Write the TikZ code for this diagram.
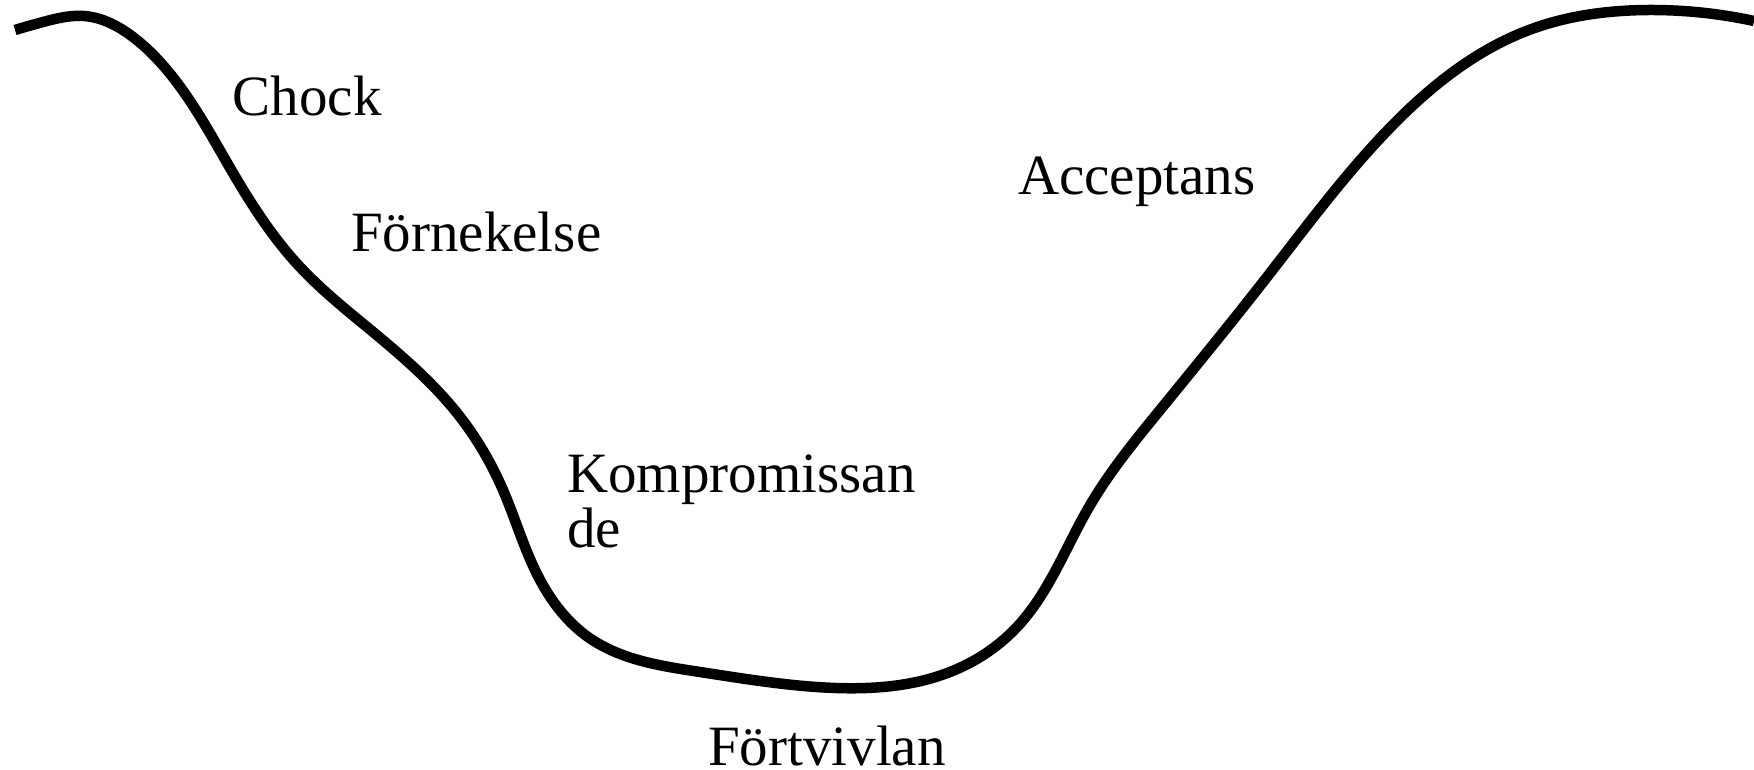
\documentclass[tikz,border=0pt]{standalone}
\usepackage{fontspec}
\setmainfont{Liberation Serif}
\usetikzlibrary{hobby}
\begin{document}
\begin{tikzpicture}[x=1pt,y=-1pt,
  lbl/.style={anchor=base west,inner sep=0pt,font=\fontsize{57}{55}\selectfont,align=left},
  curve/.style={line width=10.5pt,line cap=butt,line join=round}]
\useasboundingbox (0,0) rectangle (1754,770);
\draw[curve] (15,30) to[curve through={(45,21.5) (84,16) (133,37) (167,70) (233,173) (300,267)
 (367,327) (457,413) (503,490) (535,570) (588,637) (700,672) (836,688)
 (950,672) (1017,627) (1089,507) (1160,410) (1267,277) (1385,133) (1529,30)
 (1649,10)}] (1754,21);
\node[lbl] (chock) at (232.7,115.2) {Chock};
\node[lbl] (forn) at (351,251.7) {Förnekelse};
\node[lbl] (acc) at (1018,194.6) {Acceptans};
\node[lbl] (komp) at (567,547) {Kompromissan\\de};
\node[lbl] (fort) at (708,765) {Förtvivlan};
\end{tikzpicture}
\end{document}
